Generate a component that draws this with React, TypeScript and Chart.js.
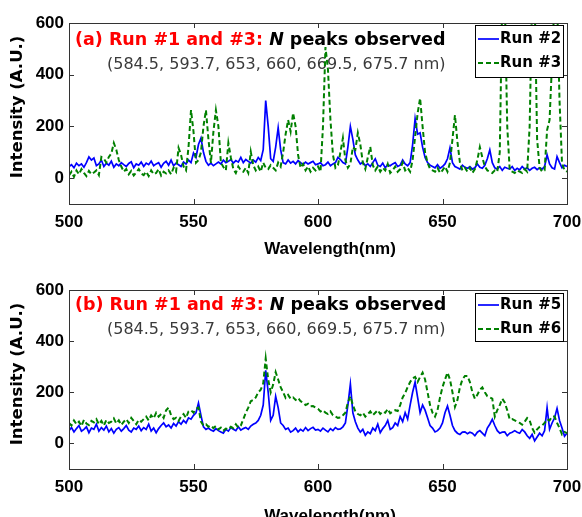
import React, { useEffect, useRef } from 'react';
import { Chart, registerables } from 'chart.js';

Chart.register(...registerables);

// ---------- data ----------
const wavelengths: number[] = Array.from({ length: 201 }, (_, i) => 500 + i);

const run2 = [
  45, 52, 40, 58, 48, 55, 42, 60, 82, 70,
  78, 48, 55, 70, 45, 58, 50, 66, 42, 55,
  48, 60, 52, 45, 57, 63, 40, 55, 50, 62,
  45, 58, 52, 66, 48, 55, 60, 42, 57, 65,
  50, 70, 48, 58, 52, 45, 62, 55, 70, 60,
  97, 80, 130, 155, 100, 65, 50, 58, 48, 55,
  62, 55, 70, 60, 65, 72, 58, 68, 62, 80,
  60, 72, 65, 58, 70, 62, 80, 68, 110, 300,
  200, 75, 65, 120, 195, 110, 60, 55, 70, 58,
  65, 55, 68, 60, 52, 62, 55, 60, 65, 52,
  55, 60, 48, 52, 62, 48, 55, 60, 80, 72,
  60, 55, 120, 200, 150, 90, 70, 55, 62, 48,
  55, 45, 60, 75, 50, 45, 58, 40, 52, 48,
  55, 60, 45, 50, 70, 55, 48, 60, 130, 230,
  170, 175, 120, 80, 60, 50, 45, 40, 52, 38,
  45, 55, 75, 117, 60, 45, 40, 35, 50, 42,
  38, 45, 35, 40, 55, 42, 38, 50, 75, 109,
  60, 40, 35, 45, 30, 42, 38, 35, 45, 30,
  38, 32, 45, 35, 40, 30, 38, 42, 33, 40,
  35, 45, 90, 55, 40, 35, 83, 60, 40, 50,
  45,
];

const run3 = [
  10, 25, 5, 30, 15, 35, 20, 8, 28, 15,
  22, 30, 12, 82, 75, 60, 82, 95, 136, 110,
  70, 45, 25, 35, 15, 28, 10, 22, 35, 18,
  12, 25, 8, 30, 15, 20, 35, 10, 25, 18,
  30, 15, 40, 25, 117, 90, 45, 30, 120, 263,
  180, 60, 70, 100, 200, 263, 150, 59, 180, 263,
  200, 60, 43, 30, 136, 80, 35, 20, 45, 30,
  25, 40, 20, 102, 50, 30, 45, 25, 60, 40,
  35, 50, 40, 30, 60, 45, 100, 170, 225, 180,
  252, 200, 90, 40, 55, 30, 45, 25, 40, 30,
  45, 25, 200, 507, 420, 225, 90, 40, 50, 100,
  155, 70, 40, 55, 120, 110, 175, 130, 60, 35,
  80, 121, 50, 30, 45, 25, 40, 30, 55, 20,
  30, 45, 25, 35, 60, 30, 40, 25, 70, 160,
  250, 309, 200, 100, 60, 35, 30, 25, 40, 20,
  30, 45, 25, 60, 150, 244, 140, 60, 30, 40,
  25, 40, 20, 35, 70, 120, 80, 45, 30, 25,
  20, 30, 25, 100, 700, 700, 200, 30, 25, 20,
  30, 25, 20, 35, 25, 200, 700, 700, 150, 40,
  25, 30, 186, 225, 450, 700, 700, 300, 58, 30,
  25,
];

const run5 = [
  50, 62, 45, 58, 70, 48, 55, 65, 42, 60,
  55, 75, 48, 62, 52, 68, 45, 58, 40, 55,
  62, 48, 58, 70, 52, 45, 60, 55, 68, 50,
  62, 55, 75, 48, 60, 42, 58, 70, 80, 65,
  72, 60, 78, 68, 85, 75, 90, 80, 100, 95,
  110, 120, 158, 110, 65, 55, 60, 52, 48, 58,
  50, 45, 40, 55, 48, 62, 55, 50, 65, 52,
  58, 62, 55, 68, 75, 80, 90, 110, 150, 286,
  200, 90, 110, 184, 140, 80, 70, 55, 60, 44,
  50, 60, 45, 55, 48, 62, 50, 58, 63, 52,
  55, 48, 60, 52, 45, 58, 50, 62, 55, 57,
  65, 80, 150, 232, 120, 85, 60, 44, 55, 32,
  45, 38, 60, 50, 75, 42, 58, 70, 90, 55,
  62, 80, 70, 105, 85, 120, 95, 150, 200, 240,
  180, 120, 150, 130, 100, 70, 60, 45, 50, 60,
  80, 120, 146, 110, 70, 50, 40, 35, 44, 45,
  38, 44, 40, 30, 44, 50, 40, 30, 60, 75,
  94, 70, 50, 40, 44, 45, 30, 40, 44, 50,
  44, 40, 54, 45, 30, 20, 35, 10, 25, 40,
  30, 50, 140, 55, 80, 100, 137, 90, 60, 28,
  40,
];

const run6 = [
  80, 70, 90, 75, 85, 68, 92, 78, 72, 88,
  82, 95, 75, 88, 70, 92, 80, 85, 98, 78,
  90, 72, 85, 95, 80, 100, 88, 75, 92, 85,
  95, 105, 90, 110, 98, 120, 105, 115, 100, 130,
  140, 110, 95, 100, 88, 105, 115, 100, 125, 130,
  120, 135, 140, 85, 70, 75, 65, 70, 60, 68,
  55, 62, 50, 58, 55, 65, 60, 75, 62, 70,
  95, 120, 140, 165, 170, 180, 200, 210, 235, 332,
  250, 200, 230, 279, 250, 220, 200, 178, 190, 175,
  180, 170, 178, 165, 160, 150, 155, 145, 146, 140,
  135, 125, 130, 120, 115, 125, 110, 105, 100, 101,
  110, 120, 160, 184, 150, 125, 115, 110, 120, 105,
  115, 125, 110, 120, 130, 115, 125, 120, 135, 118,
  125, 130, 127, 150, 180, 197, 220, 240, 255, 260,
  240, 260, 277, 250, 200, 150, 120, 105, 130, 180,
  220, 250, 277, 250, 200, 143, 170, 220, 250, 264,
  264, 240, 200, 175, 190, 210, 219, 200, 185, 180,
  175, 105, 130, 150, 175, 160, 130, 94, 95, 90,
  85, 80, 73, 85, 99, 90, 60, 42, 55, 65,
  70, 80, 95, 90, 105, 105, 80, 60, 35, 45,
  40,
];

const xTickValues = [500, 550, 600, 650, 700];
const yTickValues = [0, 200, 400, 600];
const xTitle = 'Wavelength(nm)';
const yTitle = 'Intensity (A.U.)';
const noteMain = ' Run #1 and #3: ';
const noteItalic = 'N';
const noteTail = ' peaks observed';
const noteSub = '(584.5, 593.7, 653, 660, 669.5, 675.7 nm)';

// ---------- layout ----------
const W = 582;
const PLOT_LEFT = 69;
const PLOT_RIGHT = 567;
const ANNOT_FONT = '"DejaVu Sans", sans-serif';
const AXIS_FONT = '"Liberation Sans", Arial, sans-serif';

type Series = { label: string; values: number[]; color: string; dash: number[]; width: number; order: number };
type Panel = {
  top: number;
  height: number;
  plotTop: number;
  plotBottom: number;
  tag: string;
  series: Series[];
  line1Y: number;
  line2Y: number;
  legend: { x: number; y: number; w: number; h: number; rows: number[] };
  titleTop: number;
  yTitleY: number;
};

const panels: Panel[] = [
  {
    top: 0,
    height: 258,
    plotTop: 23,
    plotBottom: 204,
    tag: '(a)',
    series: [
      { label: 'Run #2', values: run2, color: '#0000ff', dash: [], width: 1.7, order: 1 },
      { label: 'Run #3', values: run3, color: '#008000', dash: [5, 3], width: 2, order: 0 },
    ],
    line1Y: 40,
    line2Y: 65,
    legend: { x: 475, y: 25, w: 88, h: 52, rows: [39, 63] },
    titleTop: 241,
    yTitleY: 107,
  },
  {
    top: 258,
    height: 259,
    plotTop: 32,
    plotBottom: 211,
    tag: '(b)',
    series: [
      { label: 'Run #5', values: run5, color: '#0000ff', dash: [], width: 1.7, order: 1 },
      { label: 'Run #6', values: run6, color: '#008000', dash: [5, 3], width: 2, order: 0 },
    ],
    line1Y: 47,
    line2Y: 72,
    legend: { x: 475, y: 35, w: 88, h: 48, rows: [47, 71] },
    titleTop: 250,
    yTitleY: 116,
  },
];

function makeDeco(p: Panel) {
  return {
    id: 'deco',
    beforeDatasetsDraw(chart: any) {
      const ctx = chart.ctx as CanvasRenderingContext2D;
      ctx.save();
      ctx.textBaseline = 'middle';
      ctx.textAlign = 'left';
      const bold = `bold 17.5px ${ANNOT_FONT}`;
      ctx.font = bold;
      ctx.fillStyle = '#ff0000';
      const red = p.tag + noteMain;
      let cx = 75;
      ctx.fillText(red, cx, p.line1Y);
      cx += ctx.measureText(red).width;
      ctx.font = `italic bold 17.5px ${ANNOT_FONT}`;
      ctx.fillStyle = '#000';
      ctx.fillText(noteItalic, cx, p.line1Y);
      cx += ctx.measureText(noteItalic).width;
      ctx.font = bold;
      ctx.fillText(noteTail, cx, p.line1Y);
      ctx.font = `16px ${ANNOT_FONT}`;
      ctx.fillStyle = '#3a3a3a';
      ctx.fillText(noteSub, 107, p.line2Y);
      ctx.restore();
    },
    afterDatasetsDraw(chart: any) {
      const ctx = chart.ctx as CanvasRenderingContext2D;
      const a = chart.chartArea;
      const xs = chart.scales.x;
      const ys = chart.scales.y;
      ctx.save();
      ctx.strokeStyle = '#333';
      ctx.lineWidth = 1;
      ctx.setLineDash([]);
      ctx.strokeRect(Math.round(a.left) + 0.5, Math.round(a.top) + 0.5, Math.round(a.right - a.left), Math.round(a.bottom - a.top));
      const T = 5;
      ctx.beginPath();
      xTickValues.forEach((v) => {
        const px = Math.round(xs.getPixelForValue(v)) + 0.5;
        ctx.moveTo(px, a.bottom);
        ctx.lineTo(px, a.bottom - T);
        ctx.moveTo(px, a.top);
        ctx.lineTo(px, a.top + T);
      });
      yTickValues.forEach((v) => {
        const py = Math.round(ys.getPixelForValue(v)) + 0.5;
        ctx.moveTo(a.left, py);
        ctx.lineTo(a.left + T, py);
        ctx.moveTo(a.right, py);
        ctx.lineTo(a.right - T, py);
      });
      ctx.stroke();

      // legend
      const L = p.legend;
      ctx.fillStyle = '#fff';
      ctx.fillRect(L.x, L.y, L.w, L.h);
      ctx.strokeStyle = '#000';
      ctx.strokeRect(L.x + 0.5, L.y + 0.5, L.w, L.h);
      ctx.font = `bold 15px ${ANNOT_FONT}`;
      ctx.textBaseline = 'middle';
      ctx.textAlign = 'left';
      p.series.forEach((s, i) => {
        const ry = L.rows[i];
        ctx.strokeStyle = s.color;
        ctx.lineWidth = s.width;
        ctx.setLineDash(s.dash);
        ctx.beginPath();
        ctx.moveTo(L.x + 3, ry);
        ctx.lineTo(L.x + 24, ry);
        ctx.stroke();
        ctx.fillStyle = '#000';
        ctx.fillText(s.label, L.x + 25, ry);
      });
      ctx.restore();
    },
    afterDraw(chart: any) {
      const ctx = chart.ctx as CanvasRenderingContext2D;
      const a = chart.chartArea;
      ctx.save();
      ctx.fillStyle = '#000';
      ctx.font = `bold 17px ${AXIS_FONT}`;
      ctx.textAlign = 'center';
      ctx.textBaseline = 'top';
      ctx.fillText(xTitle, (a.left + a.right) / 2 + 12, p.titleTop);
      ctx.font = `bold 16.5px ${ANNOT_FONT}`;
      ctx.translate(18, p.yTitleY);
      ctx.rotate(-Math.PI / 2);
      ctx.textBaseline = 'middle';
      ctx.fillText(yTitle, 0, 0);
      ctx.restore();
    },
  };
}

function PanelChart({ p }: { p: Panel }) {
  const ref = useRef<HTMLCanvasElement | null>(null);
  useEffect(() => {
    if (!ref.current) return;
    const tickFont = { family: AXIS_FONT, size: 17, weight: 'bold' as const };
    const chart = new Chart(ref.current, {
      type: 'line',
      data: {
        datasets: p.series.map((s) => ({
          label: s.label,
          data: wavelengths.map((w, i) => ({ x: w, y: s.values[i] })),
          borderColor: s.color,
          borderWidth: s.width,
          borderDash: s.dash,
          pointRadius: 0,
          fill: false,
          tension: 0,
          order: s.order,
        })),
      },
      options: {
        animation: false,
        responsive: false,
        devicePixelRatio: 1,
        events: [],
        layout: { padding: { top: p.plotTop, right: W - PLOT_RIGHT, left: 0, bottom: 0 } },
        plugins: { legend: { display: false }, tooltip: { enabled: false }, title: { display: false } },
        scales: {
          x: {
            type: 'linear',
            min: 500,
            max: 700,
            grid: { display: false, drawTicks: false },
            border: { display: false },
            ticks: { font: tickFont, color: '#000', padding: 8, autoSkip: false, maxRotation: 0, callback: (v: any) => String(v) },
            afterBuildTicks: (s: any) => {
              s.ticks = xTickValues.map((v) => ({ value: v }));
            },
            afterFit: (s: any) => {
              s.height = p.height - p.plotBottom;
              s.paddingLeft = 0;
              s.paddingRight = 0;
            },
          },
          y: {
            type: 'linear',
            min: -100,
            max: 600,
            grid: { display: false, drawTicks: false },
            border: { display: false },
            ticks: { font: tickFont, color: '#000', padding: 5, autoSkip: false, callback: (v: any) => String(v) },
            afterBuildTicks: (s: any) => {
              s.ticks = yTickValues.map((v) => ({ value: v }));
            },
            afterFit: (s: any) => {
              s.width = PLOT_LEFT;
              s.paddingTop = 0;
              s.paddingBottom = 0;
            },
          },
        },
      },
      plugins: [makeDeco(p)],
    });
    return () => chart.destroy();
  }, [p]);
  return (
    <canvas
      ref={ref}
      width={W}
      height={p.height}
      style={{ position: 'absolute', left: 0, top: p.top, width: W, height: p.height }}
    />
  );
}

export default function App() {
  return (
    <div style={{ position: 'absolute', left: 0, top: 0, width: W, height: 517, background: '#fff', overflow: 'hidden' }}>
      {panels.map((p, i) => (
        <PanelChart key={i} p={p} />
      ))}
    </div>
  );
}
